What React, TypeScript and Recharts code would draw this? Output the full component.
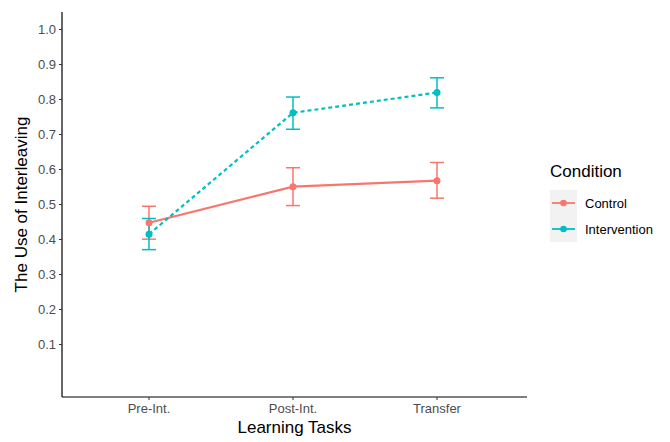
import React from "react"
import { LineChart, Line, XAxis, YAxis, ErrorBar, Label } from "recharts"

const tasks = ["Pre-Int.", "Post-Int.", "Transfer"]
const controlMean = [0.448, 0.551, 0.568]
const controlLow = [0.401, 0.497, 0.518]
const controlHigh = [0.495, 0.605, 0.62]
const interventionMean = [0.415, 0.762, 0.82]
const interventionLow = [0.371, 0.715, 0.776]
const interventionHigh = [0.46, 0.807, 0.862]
const yTicks = [0.1, 0.2, 0.3, 0.4, 0.5, 0.6, 0.7, 0.8, 0.9, 1.0]

const CONTROL = "#F8766D"
const INTERVENTION = "#00BFC4"
const FONT = "'Liberation Sans', Arial, sans-serif"

const data = tasks.map((task, i) => ({
  task,
  control: controlMean[i],
  controlErr: [controlMean[i] - controlLow[i], controlHigh[i] - controlMean[i]],
  intervention: interventionMean[i],
  interventionErr: [
    interventionMean[i] - interventionLow[i],
    interventionHigh[i] - interventionMean[i],
  ],
}))

function LegendKey({ color }: { color: string }) {
  return (
    <svg width={27} height={26} style={{ display: "block" }}>
      <rect x={0} y={0} width={27} height={26} fill="#F2F2F2" />
      <line x1={2} y1={13} x2={25} y2={13} stroke={color} strokeWidth={1.8} />
      <circle cx={13.5} cy={13} r={3.3} fill={color} />
    </svg>
  )
}

export default function App() {
  const tick = { fill: "#4D4D4D", fontSize: 13, fontFamily: FONT }
  return (
    <div style={{ position: "absolute", left: 0, top: 0, width: 670, height: 442, background: "#fff" }}>
      <LineChart
        width={670}
        height={442}
        data={data}
        margin={{ top: 12, right: 143, bottom: 0, left: 0 }}
      >
        <XAxis
          dataKey="task"
          height={45}
          padding={{ left: 87, right: 90 }}
          tick={tick}
          tickSize={3}
          tickMargin={4}
          axisLine={{ stroke: "#000", strokeWidth: 1.2 }}
          tickLine={{ stroke: "#333" }}
        >
          <Label
            value="Learning Tasks"
            position="insideBottom"
            offset={9}
            style={{ fill: "#000", fontSize: 17, fontFamily: FONT }}
          />
        </XAxis>
        <YAxis
          type="number"
          domain={[-0.05, 1.05]}
          ticks={yTicks}
          width={62}
          tick={tick}
          tickSize={3}
          tickMargin={3}
          tickFormatter={(v: number) => v.toFixed(1)}
          axisLine={{ stroke: "#000", strokeWidth: 1.2 }}
          tickLine={{ stroke: "#333" }}
          allowDataOverflow
        >
          <Label
            value="The Use of Interleaving"
            angle={-90}
            position="insideLeft"
            offset={21}
            style={{ fill: "#000", fontSize: 17, fontFamily: FONT, textAnchor: "middle" }}
          />
        </YAxis>
        <Line
          dataKey="control"
          stroke={CONTROL}
          strokeWidth={2.2}
          dot={{ r: 3.5, fill: CONTROL, stroke: CONTROL, strokeWidth: 0 }}
          activeDot={false}
          isAnimationActive={false}
        >
          <ErrorBar dataKey="controlErr" direction="y" width={7} stroke={CONTROL} strokeWidth={1.5} />
        </Line>
        <Line
          dataKey="intervention"
          stroke={INTERVENTION}
          strokeWidth={2.2}
          strokeDasharray="4 3"
          dot={{ r: 3.5, fill: INTERVENTION, stroke: INTERVENTION, strokeWidth: 0, strokeDasharray: "0" }}
          activeDot={false}
          isAnimationActive={false}
        >
          <ErrorBar dataKey="interventionErr" direction="y" width={7} stroke={INTERVENTION} strokeWidth={1.5} strokeDasharray="0" />
        </Line>
      </LineChart>
      <div style={{ position: "absolute", left: 550, top: 162, fontFamily: FONT }}>
        <div style={{ fontSize: 17, color: "#000", lineHeight: "20px", marginBottom: 8 }}>Condition</div>
        <div style={{ display: "flex", alignItems: "center", height: 26 }}>
          <LegendKey color={CONTROL} />
          <span style={{ fontSize: 13, color: "#000", marginLeft: 8 }}>Control</span>
        </div>
        <div style={{ display: "flex", alignItems: "center", height: 26 }}>
          <LegendKey color={INTERVENTION} />
          <span style={{ fontSize: 13, color: "#000", marginLeft: 8 }}>Intervention</span>
        </div>
      </div>
    </div>
  )
}
